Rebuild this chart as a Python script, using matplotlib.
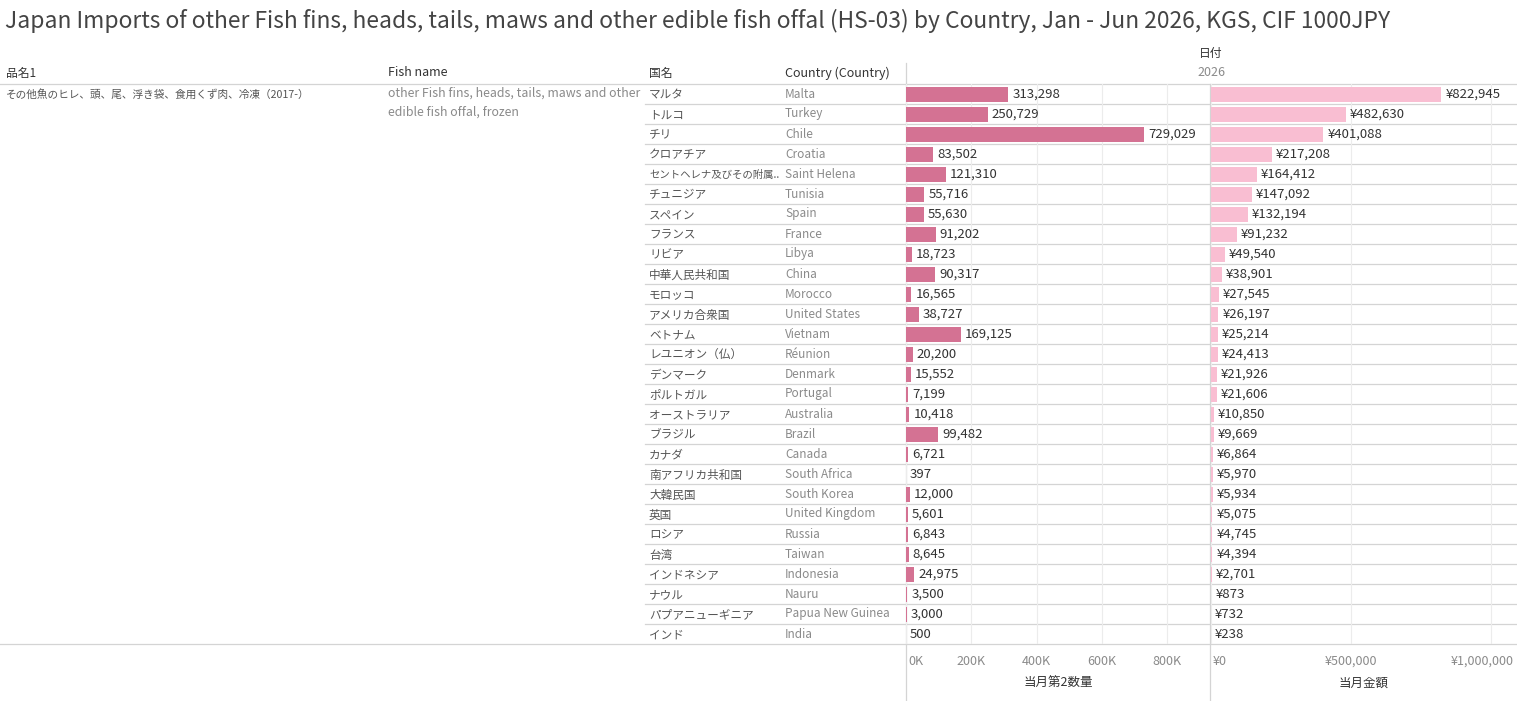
import matplotlib
matplotlib.use("Agg")
import matplotlib.pyplot as plt
import matplotlib.transforms as mtransforms

plt.rcParams['font.family'] = ['Noto Sans CJK JP', 'DejaVu Sans']

title = "Japan Imports of other Fish fins, heads, tails, maws and other edible fish offal (HS-03) by Country, Jan - Jun 2026, KGS, CIF 1000JPY"
product_jp = "その他魚のヒレ、頭、尾、浮き袋、食用くず肉、冷凍（2017-）"
product_en = ["other Fish fins, heads, tails, maws and other", "edible fish offal, frozen"]

countries_jp = ["マルタ", "トルコ", "チリ", "クロアチア", "セントヘレナ及びその附属..", "チュニジア", "スペイン",
                "フランス", "リビア", "中華人民共和国", "モロッコ", "アメリカ合衆国", "ベトナム", "レユニオン（仏）",
                "デンマーク", "ポルトガル", "オーストラリア", "ブラジル", "カナダ", "南アフリカ共和国", "大韓民国",
                "英国", "ロシア", "台湾", "インドネシア", "ナウル", "パプアニューギニア", "インド"]
countries_en = ["Malta", "Turkey", "Chile", "Croatia", "Saint Helena", "Tunisia", "Spain", "France", "Libya",
                "China", "Morocco", "United States", "Vietnam", "Réunion", "Denmark", "Portugal", "Australia",
                "Brazil", "Canada", "South Africa", "South Korea", "United Kingdom", "Russia", "Taiwan",
                "Indonesia", "Nauru", "Papua New Guinea", "India"]
quantity = [313298, 250729, 729029, 83502, 121310, 55716, 55630, 91202, 18723, 90317, 16565, 38727,
            169125, 20200, 15552, 7199, 10418, 99482, 6721, 397, 12000, 5601, 6843, 8645, 24975, 3500, 3000, 500]
value = [822945, 482630, 401088, 217208, 164412, 147092, 132194, 91232, 49540, 38901, 27545, 26197,
         25214, 24413, 21926, 21606, 10850, 9669, 6864, 5970, 5934, 5075, 4745, 4394, 2701, 873, 732, 238]
qty_ticks = [0, 200000, 400000, 600000, 800000]
qty_ticklabels = ["0K", "200K", "400K", "600K", "800K"]
val_ticks = [0, 500000, 1000000]
val_ticklabels = ["¥0", "¥500,000", "¥1,000,000"]

W, H = 1517, 701
fig = plt.figure(figsize=(W / 100, H / 100), dpi=100)
fig.patch.set_facecolor("white")

DARK = "#333333"
MID = "#555555"
LIGHT = "#8a8a8a"
LINE = "#d4d4d4"
GRID = "#ececec"

base = fig.add_axes([0, 0, 1, 1])
base.set_xlim(0, W)
base.set_ylim(H, 0)
base.axis("off")

row_top = 84
row_h = 20
n = len(countries_jp)
row_bottom = row_top + row_h * n

base.text(5, 21, title, fontsize=16.45, color="#444444", va="center", ha="left")

hy = 73
base.text(6, hy, "品名1", fontsize=8.5, color=DARK, va="center")
base.text(388, hy, "Fish name", fontsize=9, color=DARK, va="center")
base.text(649, hy, "国名", fontsize=8.5, color=DARK, va="center")
base.text(785, hy, "Country (Country)", fontsize=9, color=DARK, va="center")
base.text(1211, 53, "日付", fontsize=8.5, color=DARK, va="center", ha="center")
base.text(1211, 73, "2026", fontsize=9, color=LIGHT, va="center", ha="center")

base.text(6, 94, product_jp, fontsize=7.7, color=MID, va="center")
base.text(388, 93, product_en[0], fontsize=8.9, color=LIGHT, va="center")
base.text(388, 112, product_en[1], fontsize=8.9, color=LIGHT, va="center")

for i, (j, e) in enumerate(zip(countries_jp, countries_en)):
    y = row_top + row_h * i + row_h / 2
    fs = 7.5 if len(j) > 10 else 8.4
    base.text(649, y + 1, j, fontsize=fs, color=MID, va="center")
    base.text(785, y, e, fontsize=8.5, color=LIGHT, va="center")

lw = 0.9
base.plot([0, W], [row_top, row_top], color=LINE, lw=lw)
base.plot([0, W], [row_bottom, row_bottom], color=LINE, lw=lw)
for i in range(1, n):
    y = row_top + row_h * i
    base.plot([645, W], [y, y], color=LINE, lw=lw)
base.plot([906, 906], [63, H], color=LINE, lw=lw)
base.plot([1210.5, 1210.5], [row_top, H], color=LINE, lw=lw)


def panel(x0, x1, data, xmax, color, ticks, ticklabels, label, prefix, shift_last):
    ax = fig.add_axes([x0 / W, (H - row_bottom) / H, (x1 - x0) / W, (row_bottom - row_top) / H])
    ax.set_facecolor("none")
    ax.set_zorder(2)
    ypos = list(range(n))
    ax.barh(ypos, data, height=0.75, color=color, zorder=3)
    ax.set_xlim(0, xmax)
    ax.set_ylim(n - 0.5, -0.5)
    for s in ax.spines.values():
        s.set_visible(False)
    ax.set_yticks([])
    ax.set_xticks(ticks)
    ax.set_xticklabels(ticklabels)
    ax.tick_params(axis="x", length=0, pad=8, labelsize=9, labelcolor=LIGHT)
    ax.xaxis.grid(True, color=GRID, lw=0.8, zorder=0)
    ax.set_axisbelow(True)
    labels = ax.get_xticklabels()
    labels[0].set_ha("left")
    labels[0].set_transform(labels[0].get_transform() + mtransforms.ScaledTranslation(2 / 100, 0, fig.dpi_scale_trans))
    if shift_last:
        labels[-1].set_transform(labels[-1].get_transform() + mtransforms.ScaledTranslation(-9 / 100, 0, fig.dpi_scale_trans))
    ax.set_xlabel(label, fontsize=9, color=DARK, labelpad=6)
    for i, v in enumerate(data):
        ax.annotate(f"{prefix}{v:,}", xy=(v, i), xytext=(4, 0), textcoords="offset pixels",
                    va="center", ha="left", fontsize=9.5, color=DARK, zorder=4)
    return ax


panel(906, 1210, quantity, 931000, "#d47293", qty_ticks, qty_ticklabels, "当月第2数量", "", False)
panel(1211, 1517, value, 1093000, "#f9bed2", val_ticks, val_ticklabels, "当月金額", "¥", True)

fig.savefig("out.png", dpi=100, facecolor="white")
